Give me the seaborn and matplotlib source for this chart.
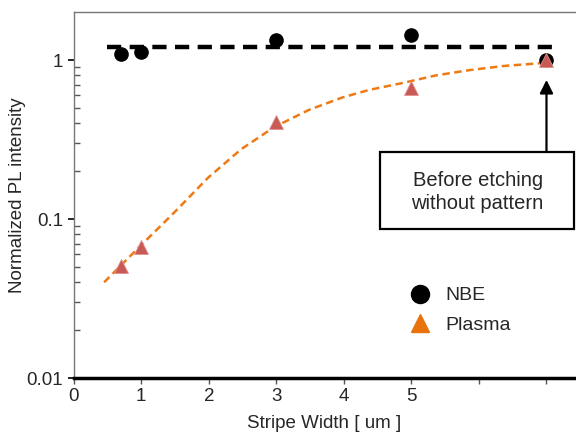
import matplotlib
matplotlib.use("Agg")
import matplotlib.pyplot as plt
import seaborn as sns
import numpy as np
import pandas as pd
from matplotlib.lines import Line2D
from matplotlib.patches import Rectangle
from matplotlib.ticker import FixedLocator, NullFormatter

# data
width = [0.7, 1.0, 3.0, 5.0, 7.0]
nbe = [1.09, 1.12, 1.34, 1.43, 1.0]
plasma = [0.051, 0.067, 0.41, 0.67, 1.0]

# fitted curve for the plasma points
fit_x = [0.45, 0.99, 1.48, 1.99, 2.48, 2.97, 3.48, 3.97, 4.37, 4.87, 5.36, 5.87, 6.36, 6.96]
fit_y = [0.040, 0.068, 0.109, 0.182, 0.275, 0.379, 0.485, 0.580, 0.648, 0.717, 0.800, 0.865, 0.917, 0.958]

# reference level before etching
ref_x = [0.5, 7.2]
ref_y = [1.21, 1.21]

sns.set_style("ticks")
plt.rcParams['font.family'] = ['Liberation Sans', 'DejaVu Sans']

fig = plt.figure(figsize=(5.76, 4.34), dpi=100)
ax = fig.add_axes([0.128, 0.129, 0.870, 0.843])

df_fit = pd.DataFrame({"x": fit_x, "y": fit_y})
df_ref = pd.DataFrame({"x": ref_x, "y": ref_y})
sns.lineplot(data=df_ref, x="x", y="y", ax=ax, color="black", lw=3.2,
             dashes=False, sort=False)
ax.lines[-1].set_dashes((3.2, 1.9))
sns.lineplot(data=df_fit, x="x", y="y", ax=ax, color="#ef7a14", lw=1.8,
             sort=False)
ax.lines[-1].set_dashes((3.0, 1.8))

ax.plot(width, nbe, 'o', color="black", ms=9.5, zorder=4)
ax.plot(width, plasma, '^', color="#c85a55", mec="#e09090", mew=0.6, ms=10, zorder=5)

ax.set_yscale("log")
ax.set_xlim(0, 7.42)
ax.set_ylim(0.01, 2.0)

ax.set_xticks(range(8))
ax.set_xticklabels(['0', '1', '2', '3', '4', '5', '', ''])
ax.yaxis.set_major_locator(FixedLocator([0.01, 0.1, 1]))
ax.set_yticklabels(['0.01', '0.1', '1'])
minor = [m * d for d in (0.01, 0.1) for m in range(2, 10)]
ax.yaxis.set_minor_locator(FixedLocator(minor))
ax.yaxis.set_minor_formatter(NullFormatter())
ax.tick_params(axis='y', which='major', direction='out', length=4.5, width=1.2,
               labelsize=13.5, color='black', pad=3)
ax.tick_params(axis='y', which='minor', direction='in', length=4, width=1,
               color='#555555')
ax.tick_params(axis='x', which='major', direction='out', length=4, width=1,
               labelsize=13.5, color='#555555')

for s in ['left', 'top']:
    ax.spines[s].set_color('#777777')
    ax.spines[s].set_linewidth(1)
ax.spines['right'].set_visible(False)
ax.spines['bottom'].set_color('black')
ax.spines['bottom'].set_linewidth(2.5)

ax.set_xlabel("Stripe Width [ um ]", fontsize=13.5, labelpad=7)
ax.set_ylabel("Normalized PL intensity", fontsize=13.5)
ax.yaxis.set_label_coords(-0.096, 0.5)

# annotation box and arrow
ax.add_patch(Rectangle((0.611, 0.407), 0.387, 0.210, transform=ax.transAxes,
                       fill=False, ec='black', lw=1.6, clip_on=False, zorder=6))
ax.text(0.806, 0.508, "Before etching\nwithout pattern", transform=ax.transAxes,
        ha='center', va='center', fontsize=14.5, linespacing=1.25)
ax.annotate("", xy=(7.0, 0.75), xytext=(7.0, 0.264),
            arrowprops=dict(arrowstyle='-|>', color='black', lw=1.6,
                            mutation_scale=20, shrinkA=0, shrinkB=0))

handles = [Line2D([], [], marker='o', ls='', color='black', ms=13),
           Line2D([], [], marker='^', ls='', color='#e8730e', ms=13)]
ax.legend(handles, ["NBE", "Plasma"], frameon=False, fontsize=14,
          loc='upper left', bbox_to_anchor=(0.618, 0.297), handletextpad=0.3,
          labelspacing=0.62)

fig.savefig("out.png", dpi=100)
